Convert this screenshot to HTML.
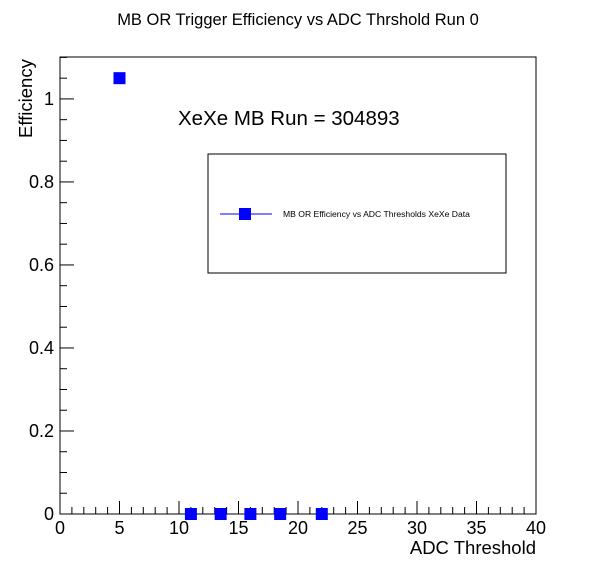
<!DOCTYPE html>
<html><head><meta charset="utf-8"><style>
body{margin:0;background:#fff}
svg{display:block;font-family:"Liberation Sans",sans-serif}
</style></head><body>
<svg id="c" width="596" height="572">
<text x="298" y="25" text-anchor="middle" font-size="16.5">MB OR Trigger Efficiency vs ADC Thrshold Run 0</text>
<rect x="60" y="57" width="476" height="457" fill="none" stroke="#000" stroke-width="1"/>
<g id="axes"></g>
<g id="pts"></g>
<text x="536" y="554" text-anchor="end" font-size="18.5">ADC Threshold</text>
<text transform="translate(32,138) rotate(-90)" font-size="18.5">Efficiency</text>
<text x="178" y="125" font-size="20.5">XeXe MB Run = 304893</text>
<g>
<rect x="208" y="154" width="298" height="119" fill="#fff" stroke="#000"/>
<line x1="220" y1="214" x2="272" y2="214" stroke="#0000ff"/>
<rect x="239" y="208" width="12" height="12" fill="#0000ff"/>
<text x="283" y="217" font-size="8.6">MB OR Efficiency vs ADC Thresholds XeXe Data</text>
</g>
</svg>
<script>
const thresholds=[5,11,13.5,16,18.5,22];
const efficiency=[1.05,0,0,0,0,0];
const xTicks=[0,5,10,15,20,25,30,35,40];
const yTicks=[0,0.2,0.4,0.6,0.8,1];
const yTickLabels=["0","0.2","0.4","0.6","0.8","1"];
const X0=60,X1=536,Y0=514,Y1=57,XMAX=40,YMAX=1.101;
const sx=v=>X0+v/XMAX*(X1-X0), sy=v=>Y0-v/YMAX*(Y0-Y1);
const NS="http://www.w3.org/2000/svg";
const ax=document.getElementById('axes'), pts=document.getElementById('pts');
function mk(t,a,p){const e=document.createElementNS(NS,t);for(const k in a)e.setAttribute(k,a[k]);p.appendChild(e);return e;}
for(let v=0;v<=40;v+=1){const maj=v%5===0;const l=mk('line',{x1:sx(v),x2:sx(v),y1:Y0,y2:Y0-(maj?13:7),stroke:'#000'},ax);

}
xTicks.forEach(v=>{const t=mk('text',{x:sx(v),y:534,'text-anchor':'middle','font-size':18},ax);t.textContent=v;

});
for(let i=0;i*0.05<=YMAX;i++){const v=i*0.05;const maj=i%4===0;const l=mk('line',{x1:X0,x2:X0+(maj?14:7),y1:sy(v),y2:sy(v),stroke:'#000'},ax);

}
yTicks.forEach((v,i)=>{const t=mk('text',{x:54,y:sy(v)+6,'text-anchor':'end','font-size':18},ax);t.textContent=yTickLabels[i];

});
thresholds.forEach((x,i)=>{const r=mk('rect',{x:sx(x)-6,y:sy(efficiency[i])-6,width:12,height:12,fill:'#0000ff'},pts);

});
</script>
</body></html>
